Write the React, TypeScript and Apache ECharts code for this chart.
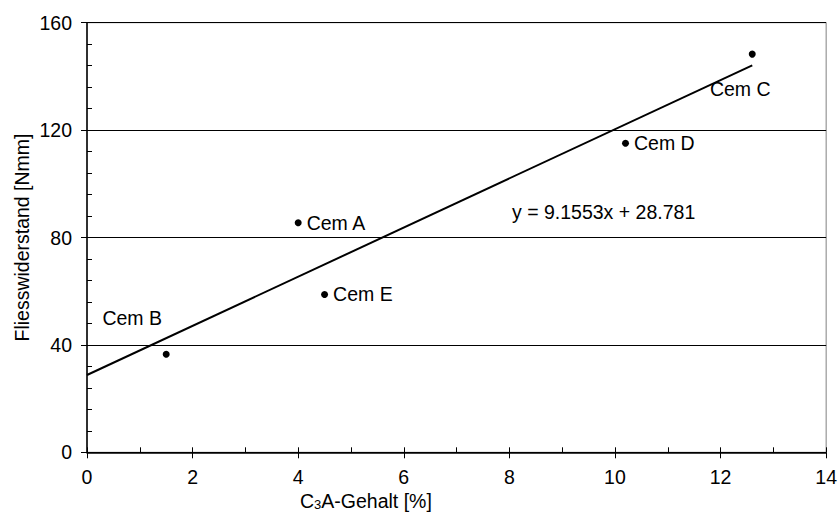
import React, { useEffect, useRef } from "react";
import * as echarts from "echarts";

// C3A content [%] of each cement and measured flow resistance [Nmm]
const cements = ["Cem A", "Cem B", "Cem C", "Cem D", "Cem E"];
const c3aContent = [4.0, 1.5, 12.6, 10.2, 4.5];
const flowResistance = [85.5, 36.5, 148.3, 115.1, 58.8];

// linear regression stated in the chart
const slope = 9.1553;
const intercept = 28.781;

const xTicks = { min: 0, max: 14, interval: 2, minor: 1 };
const yTicks = { min: 0, max: 160, interval: 40, minor: 8 };

const FONT = "'Liberation Sans', Arial, sans-serif";
const FS = 19.5;

// label placement of each cement name relative to its point
const labelPlacement: Record<string, any> = {
  "Cem A": { position: "right", distance: 5 },
  "Cem B": { position: "inside", offset: [-34, -36] },
  "Cem C": { position: "inside", offset: [-12, 35] },
  "Cem D": { position: "right", distance: 5 },
  "Cem E": { position: "right", distance: 5 },
};

export default function App() {
  const ref = useRef<HTMLDivElement>(null);

  useEffect(() => {
    if (!ref.current) return;
    const chart = echarts.init(ref.current, null, { renderer: "svg" });

    const points = cements.map((name, i) => ({
      name,
      value: [c3aContent[i], flowResistance[i]],
      label: {
        show: true,
        formatter: name,
        color: "#000",
        opacity: 1,
        fontSize: FS,
        fontFamily: FONT,
        ...labelPlacement[name],
      },
    }));

    const xEnd = Math.max(...c3aContent);
    const trend = [
      [0, intercept],
      [xEnd, intercept + slope * xEnd],
    ];

    const axisLabel = { color: "#000", fontSize: FS, fontFamily: FONT };

    chart.setOption({
      animation: false,
      backgroundColor: "#fff",
      grid: {
        left: 87,
        right: 11,
        top: 22.7,
        bottom: 59.7,
        show: true,
        borderColor: "#808080",
        borderWidth: 1,
        backgroundColor: "transparent",
      },
      xAxis: [
        {
          type: "value",
          position: "bottom",
          min: xTicks.min,
          max: xTicks.max,
          interval: xTicks.interval,
          axisLine: { show: true, onZero: false, lineStyle: { color: "#000", width: 1.5 } },
          axisTick: { show: true, inside: false, length: 6, lineStyle: { color: "#000", width: 1 } },
          axisLabel: { ...axisLabel, margin: 15 },
          splitLine: { show: false },
        },
        {
          type: "value",
          position: "bottom",
          offset: 0,
          min: xTicks.min,
          max: xTicks.max,
          interval: xTicks.minor,
          axisLine: { show: false },
          axisTick: { show: true, inside: true, length: 5, lineStyle: { color: "#000", width: 1 } },
          axisLabel: { show: false },
          splitLine: { show: false },
        },
      ],
      yAxis: [
        {
          type: "value",
          position: "left",
          min: yTicks.min,
          max: yTicks.max,
          interval: yTicks.interval,
          axisLine: { show: true, onZero: false, lineStyle: { color: "#000", width: 1.5 } },
          axisTick: { show: true, inside: false, length: 6, lineStyle: { color: "#000", width: 1 } },
          axisLabel: { ...axisLabel, margin: 15 },
          splitLine: { show: true, lineStyle: { color: "#000", width: 1 } },
        },
        {
          type: "value",
          position: "left",
          offset: 0,
          min: yTicks.min,
          max: yTicks.max,
          interval: yTicks.minor,
          axisLine: { show: false },
          axisTick: { show: true, inside: true, length: 5, lineStyle: { color: "#000", width: 1 } },
          axisLabel: { show: false },
          splitLine: { show: false },
        },
      ],
      graphic: [
        {
          type: "text",
          x: 22,
          y: 237.5,
          rotation: Math.PI / 2,
          style: {
            text: "Fliesswiderstand [Nmm]",
            fill: "#000",
            font: `${FS}px ${FONT}`,
            align: "center",
            verticalAlign: "middle",
          },
        },
        {
          type: "text",
          x: 300,
          y: 491,
          style: {
            text: "{n|C}{s|3}{n|A-Gehalt [%]}",
            fill: "#000",
            align: "left",
            verticalAlign: "top",
            rich: {
              n: { fontSize: FS, fontFamily: FONT, lineHeight: 20, fill: "#000" },
              s: { fontSize: 13, fontFamily: FONT, lineHeight: 13, verticalAlign: "bottom", fill: "#000" },
            },
          },
        },
        {
          type: "text",
          x: 512,
          y: 212,
          style: {
            text: `y = ${slope}x + ${intercept}`,
            fill: "#000",
            font: `${FS}px ${FONT}`,
            align: "left",
            verticalAlign: "middle",
          },
        },
      ],
      series: [
        {
          type: "line",
          data: trend,
          xAxisIndex: 0,
          yAxisIndex: 0,
          showSymbol: false,
          symbol: "none",
          lineStyle: { color: "#000", width: 2 },
          z: 2,
        },
        {
          type: "scatter",
          data: points,
          xAxisIndex: 0,
          yAxisIndex: 0,
          symbol: "circle",
          symbolSize: 7,
          itemStyle: { color: "#000", opacity: 1 },
          z: 3,
        },
      ],
    });

    return () => chart.dispose();
  }, []);

  return (
    <div
      ref={ref}
      style={{ position: "fixed", left: 0, top: 0, width: 840, height: 512 }}
    />
  );
}
